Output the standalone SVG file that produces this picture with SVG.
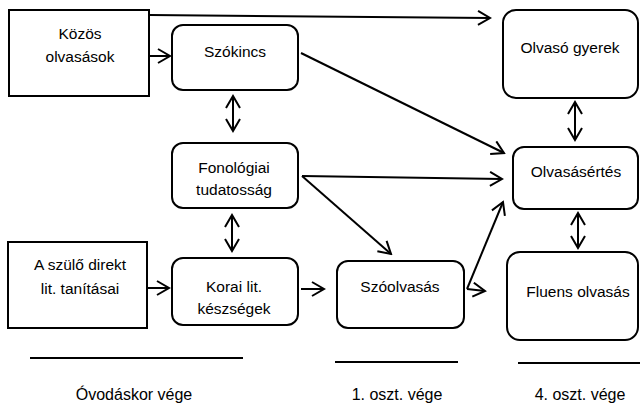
<svg xmlns="http://www.w3.org/2000/svg" width="640" height="408" viewBox="0 0 640 408">
<style>
.box{fill:#fff;stroke:#000;stroke-width:2}
.t{font-family:"Liberation Sans",Arial,sans-serif;font-size:15.5px;fill:#000;text-anchor:middle}
.lbl{font-family:"Liberation Sans",Arial,sans-serif;font-size:16px;fill:#000;text-anchor:middle}
.c{stroke:#000;stroke-width:2;fill:none;marker-end:url(#ah)}
.d{stroke:#000;stroke-width:2;fill:none;marker-end:url(#ah);marker-start:url(#ah)}
.rule{stroke:#000;stroke-width:2}
</style>
<defs>
<marker id="ah" markerUnits="userSpaceOnUse" viewBox="-1 -8 15 16" markerWidth="15" markerHeight="16" refX="12" refY="0" orient="auto-start-reverse">
<path d="M0,-7 L12,0 L0,7" fill="none" stroke="#000" stroke-width="2"/>
</marker>
</defs>
<rect width="640" height="408" fill="#fff"/>
<g id="connectors">
<path class="c" d="M150,15 L490,18"/>
<path class="c" d="M150,56 L170,56"/>
<path class="d" d="M233,96 L233,131"/>
<path class="d" d="M232,215 L232,251"/>
<path class="d" d="M575,102 L575,140"/>
<path class="d" d="M578,213 L578,248"/>
<path class="c" d="M148,288 L169,288"/>
<path class="c" d="M301,289 L324,289"/>
<path class="c" d="M301,53 L504,153"/>
<path class="c" d="M302,176 L502,179"/>
<path class="c" d="M302,176 L391,254"/>
<path class="c" d="M467,289 L503,202"/>
<path class="c" d="M467,289 L485,291"/>
</g>
<g id="kozos">
<rect class="box" x="9" y="10" width="140" height="86"/>
<text class="t" x="80" y="39">Közös</text>
<text class="t" x="80" y="62">olvasások</text>
</g>
<g id="szokincs">
<rect class="box" x="172" y="25" width="126" height="65" rx="11"/>
<text class="t" x="235" y="57">Szókincs</text>
</g>
<g id="olvaso">
<rect class="box" x="503" y="10" width="135" height="88" rx="13"/>
<text class="t" x="570" y="53">Olvasó gyerek</text>
</g>
<g id="fonologiai">
<rect class="box" x="172" y="143" width="126" height="65" rx="11"/>
<text class="t" x="234" y="173">Fonológiai</text>
<text class="t" x="234" y="195">tudatosság</text>
</g>
<g id="olvasasertes">
<rect class="box" x="513" y="147" width="125" height="62" rx="11"/>
<text class="t" x="576" y="177">Olvasásértés</text>
</g>
<g id="szulo">
<rect class="box" x="8" y="242" width="139" height="86"/>
<text class="t" x="80" y="270">A szülő direkt</text>
<text class="t" x="80" y="294">lit. tanításai</text>
</g>
<g id="korai">
<rect class="box" x="172" y="258" width="126" height="67" rx="11"/>
<text class="t" x="234" y="292">Korai lit.</text>
<text class="t" x="234" y="314">készségek</text>
</g>
<g id="szoolvasas">
<rect class="box" x="337" y="261" width="127" height="67" rx="11"/>
<text class="t" x="400" y="292">Szóolvasás</text>
</g>
<g id="fluens">
<rect class="box" x="507" y="252" width="131" height="88" rx="13"/>
<text class="t" x="578" y="297">Fluens olvasás</text>
</g>
<g id="timeline">
<line class="rule" x1="30" y1="358" x2="243" y2="358"/>
<line class="rule" x1="335" y1="362" x2="458" y2="362"/>
<line class="rule" x1="518" y1="363" x2="640" y2="363"/>
<text class="lbl" x="134" y="400">Óvodáskor vége</text>
<text class="lbl" x="397" y="400">1. oszt. vége</text>
<text class="lbl" x="580" y="400">4. oszt. vége</text>
</g>
</svg>
